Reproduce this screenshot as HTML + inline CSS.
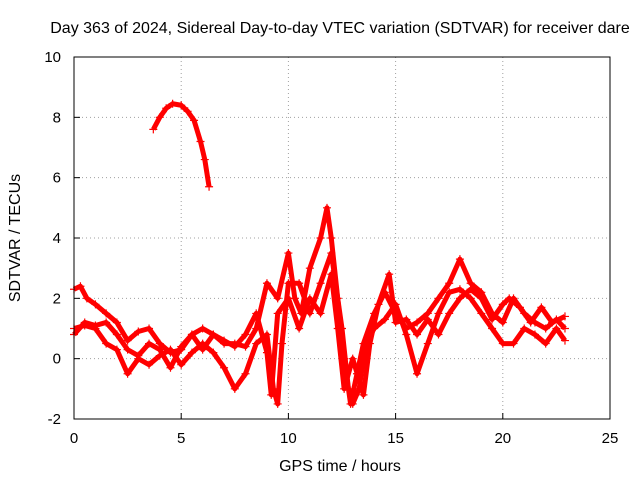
<!DOCTYPE html>
<html><head><meta charset="utf-8"><style>
html,body{margin:0;padding:0;background:#fff;}
svg{display:block;font-family:"Liberation Sans",sans-serif;}
</style></head><body>
<svg id="chart" width="640" height="480" viewBox="0 0 640 480">
<text x="340" y="33" text-anchor="middle" font-size="16">Day 363 of 2024, Sidereal Day-to-day VTEC variation (SDTVAR) for receiver dare</text>
<text x="340" y="471" text-anchor="middle" font-size="16">GPS time / hours</text>
<text transform="translate(20,238) rotate(-90)" text-anchor="middle" font-size="16">SDTVAR / TECUs</text>
<g id="grid"></g><g id="ticks"></g><g id="series"></g>
<rect x="74" y="57" width="536" height="362" fill="none" stroke="#000" stroke-width="1"/>
</svg>
<script>
const xTicks=[0,5,10,15,20,25];
const yTicks=[-2,0,2,4,6,8,10];
const arcX=[3.7,4.0,4.3,4.6,5.0,5.3,5.6,5.9,6.1,6.3];
const arcY=[7.6,8.0,8.3,8.45,8.4,8.2,7.9,7.2,6.6,5.7];
const t1X=[0,0.3,0.6,1,1.5,2,2.5,3,3.5,4,4.5,5,5.5,6,6.5,7,7.5,8,8.5,9,9.5,10,10.3,10.6,11,11.5,11.8,12,12.3,12.6,12.9,13.2,13.5,14,14.5,15,15.5,16,16.5,17,17.5,18,18.5,19,19.5,20,20.5,21,21.5,22,22.5,22.9];
const t1Y=[2.3,2.4,2.0,1.8,1.5,1.2,0.6,0.9,1.0,0.5,0.2,0.3,0.8,1.0,0.8,0.5,0.5,0.4,1.0,2.5,2.0,3.5,2.0,1.5,3.0,4.0,5.0,4.0,2.0,0.0,-1.5,-0.5,0.5,1.5,2.2,1.5,1.0,1.2,1.5,2.0,2.5,3.3,2.5,2.2,1.5,1.2,2.0,1.5,1.2,1.0,1.3,1.0];
const t2X=[0,0.5,1,1.5,2,2.5,3,3.5,4,4.5,5,5.5,6,6.5,7,7.5,8,8.5,9,9.3,9.5,9.7,10,10.5,11,11.5,12,12.5,12.8,13,13.3,13.6,14,14.5,15,15.5,16,16.5,17,17.5,18,18.5,19,19.5,20,20.5,21,21.5,22,22.5,22.9];
const t2Y=[1.0,1.1,1.0,0.5,0.3,-0.5,0.0,-0.2,0.1,0.3,-0.2,0.2,0.5,0.2,-0.3,-1.0,-0.5,0.5,0.8,-1.0,-1.5,0.5,2.5,2.5,1.5,2.5,3.5,1.0,-1.0,-1.5,-1.0,0.5,1.0,1.3,1.8,0.8,-0.5,0.5,1.5,2.2,2.3,2.0,1.5,1.0,0.5,0.5,1.0,0.8,0.5,1.0,0.6];
const t3X=[0,0.5,1,1.5,2,2.5,3,3.5,4,4.5,5,5.5,6,6.5,7,7.5,8,8.5,9,9.2,9.5,10,10.5,11,11.5,12,12.3,12.6,13,13.5,13.8,14.2,14.7,15,15.5,16,16.5,17,17.5,18,18.5,19,19.5,20,20.3,20.8,21.3,21.8,22.3,22.9];
const t3Y=[0.8,1.2,1.1,1.2,0.8,0.3,0.1,0.5,0.3,-0.3,0.4,0.8,0.3,0.8,0.6,0.4,0.8,1.5,0.2,-1.2,1.5,2.0,1.0,2.0,1.5,2.8,1.0,-1.0,0.0,-1.2,0.5,1.8,2.8,1.2,1.3,0.8,1.3,0.8,1.5,2.0,2.3,2.0,1.3,1.8,2.0,1.7,1.2,1.7,1.2,1.4];
const NS="http://www.w3.org/2000/svg";
const X=v=>74+v*536/25, Y=v=>419-(v+2)*362/12;
const grid=document.getElementById('grid'), ticks=document.getElementById('ticks'), ser=document.getElementById('series');
function mk(t,a,p){const e=document.createElementNS(NS,t);for(const k in a)e.setAttribute(k,a[k]);p.appendChild(e);return e;}
xTicks.forEach(v=>{
 if(v>0&&v<25){const g=mk('line',{x1:X(v),x2:X(v),y1:57,y2:419,stroke:'#a0a0a0','stroke-dasharray':'1,3'},grid);
 
 }
 mk('line',{x1:X(v),x2:X(v),y1:419,y2:413,stroke:'#000'},ticks);
 const t=mk('text',{x:X(v),y:443,'text-anchor':'middle','font-size':'15'},ticks);t.textContent=v;
 
 
});
yTicks.forEach(v=>{
 if(v>-2&&v<10){const g=mk('line',{x1:74,x2:610,y1:Y(v),y2:Y(v),stroke:'#a0a0a0','stroke-dasharray':'1,3'},grid);
 
 }
 mk('line',{x1:74,x2:80,y1:Y(v),y2:Y(v),stroke:'#000'},ticks);
 const t=mk('text',{x:61,y:Y(v)+5,'text-anchor':'end','font-size':'15'},ticks);t.textContent=v;
 
 
});
function draw(xs,ys,name){
 const g=mk('g',{},ser);
 
 
 mk('polyline',{points:xs.map((x,i)=>X(x)+','+Y(ys[i])).join(' '),fill:'none',stroke:'#f00','stroke-width':5,'stroke-linejoin':'round'},g);
 xs.forEach((x,i)=>{const cx=X(x),cy=Y(ys[i]);
  mk('path',{d:`M${cx-4},${cy}H${cx+4}M${cx},${cy-4}V${cy+4}`,stroke:'#f00','stroke-width':1.2},g);});
}
draw(arcX,arcY,'series-arc');
draw(t1X,t1Y,'series-track-1');
draw(t2X,t2Y,'series-track-2');
draw(t3X,t3Y,'series-track-3');
</script>
</body></html>
